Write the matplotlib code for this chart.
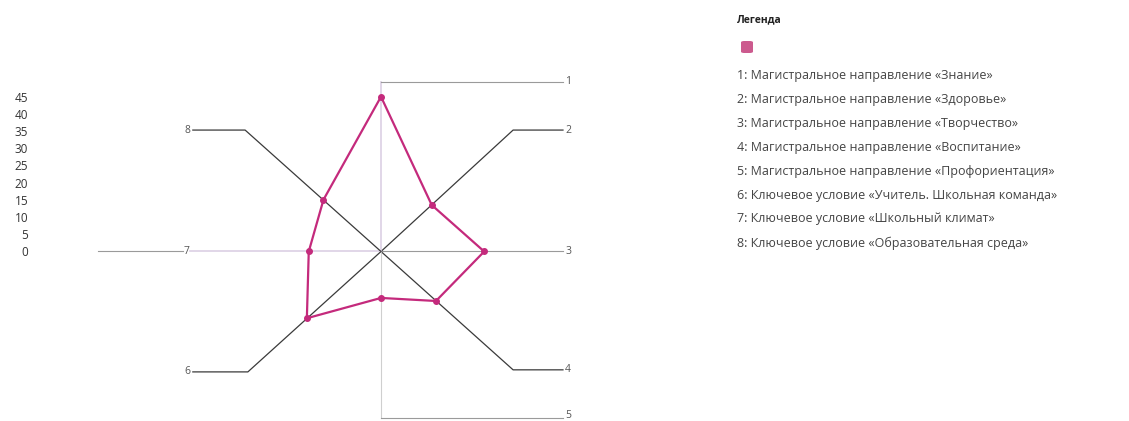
import numpy as np
import matplotlib.pyplot as plt
from matplotlib.patches import FancyBboxPatch

plt.rcParams['font.family'] = ['Open Sans', 'DejaVu Sans']

# data
axis_ids = ['1', '2', '3', '4', '5', '6', '7', '8']
values = [45, 20, 30, 21.5, 13.5, 29, 21, 22.5]
angles_deg = [90, 42.5, 0, -42, -90, 222, 180, 138]
scale_ticks = [0, 5, 10, 15, 20, 25, 30, 35, 40, 45]
legend_items = [
    '1: Магистральное направление «Знание»',
    '2: Магистральное направление «Здоровье»',
    '3: Магистральное направление «Творчество»',
    '4: Магистральное направление «Воспитание»',
    '5: Магистральное направление «Профориентация»',
    '6: Ключевое условие «Учитель. Школьная команда»',
    '7: Ключевое условие «Школьный климат»',
    '8: Ключевое условие «Образовательная среда»',
]

W, H = 1129, 421
PX = 3.44          # pixels per value unit
CX, CY = 381, 251.5  # centre in pixels

fig = plt.figure(figsize=(W / 100, H / 100), dpi=100)
ax = fig.add_axes([0, 0, 1, 1])
ax.set_xlim(-CX / PX, (W - CX) / PX)
ax.set_ylim((CY - H) / PX, CY / PX)
ax.axis('off')

dark = '#3a3a3a'
grey = '#9a9a9a'
lav = '#dccfe4'
lab_col = '#555555'

# axis lines with elbow leaders (value units)
xr = 52.9
xl = -54.7
# 1
ax.plot([0, 0], [0, 49.3], color=lav, lw=1.2)
ax.plot([0, xr], [49.3, 49.3], color=grey, lw=0.8)
# 2
ax.plot([0, 38.4, xr], [0, 35.3, 35.3], color=dark, lw=0.9)
# 3
ax.plot([0, xr], [0, 0], color=grey, lw=0.8)
# 4
ax.plot([0, 38.4, xr], [0, -34.4, -34.4], color=dark, lw=0.9)
# 5
ax.plot([0, 0], [0, -48.4], color='#cfcfcf', lw=0.8)
ax.plot([0, xr], [-48.4, -48.4], color=grey, lw=0.8)
# 6
ax.plot([0, -38.7, xl], [0, -35.0, -35.0], color=dark, lw=0.9)
# 7
ax.plot([0, -55.5], [0, 0], color=lav, lw=1.2)
ax.plot([-57.5, -82.3], [0, 0], color=grey, lw=0.8)
# 8
ax.plot([0, -39.5, xl], [0, 35.3, 35.3], color=dark, lw=0.9)

# axis number labels
lkw = dict(fontsize=7.5, color=lab_col, va='center')
ax.text(xr + 0.6, 49.3, axis_ids[0], ha='left', **lkw)
ax.text(xr + 0.6, 35.3, axis_ids[1], ha='left', **lkw)
ax.text(xr + 0.6, 0, axis_ids[2], ha='left', **lkw)
ax.text(xr + 0.6, -34.4, axis_ids[3], ha='left', **lkw)
ax.text(xr + 0.6, -47.6, axis_ids[4], ha='left', **lkw)
ax.text(xl - 0.6, -35.0, axis_ids[5], ha='right', **lkw)
ax.text(-56.5, 0, axis_ids[6], ha='center', **lkw)
ax.text(xl - 0.6, 35.3, axis_ids[7], ha='right', **lkw)

# data polygon
ang = np.deg2rad(angles_deg)
vals = np.array(values)
xs = vals * np.cos(ang)
ys = vals * np.sin(ang)
ax.plot(np.append(xs, xs[0]), np.append(ys, ys[0]), color='#c42a7c', lw=1.6,
        zorder=5)
ax.scatter(xs, ys, s=16, color='#c42a7c', zorder=6)

# value scale on the left
for t in scale_ticks:
    ax.text(-102.6, t - 0.4, str(t), fontsize=8.5, color='#333333',
            ha='right', va='center')

# legend
fig.text(737 / W, 1 - 20 / H, 'Легенда', fontsize=7.5, fontweight='bold',
         color='#222222', va='center', ha='left')
sq = FancyBboxPatch((741 / W, 1 - 53 / H), 12 / W, 12 / H,
                    boxstyle='round,pad=0,rounding_size=0.003',
                    transform=fig.transFigure, facecolor='#cc5a8e',
                    edgecolor='none')
fig.patches.append(sq)
for i, item in enumerate(legend_items):
    fig.text(737 / W, 1 - (75 + 24 * i) / H, item, fontsize=9,
             color='#444444', va='center', ha='left')

fig.savefig('out.png', dpi=100)
